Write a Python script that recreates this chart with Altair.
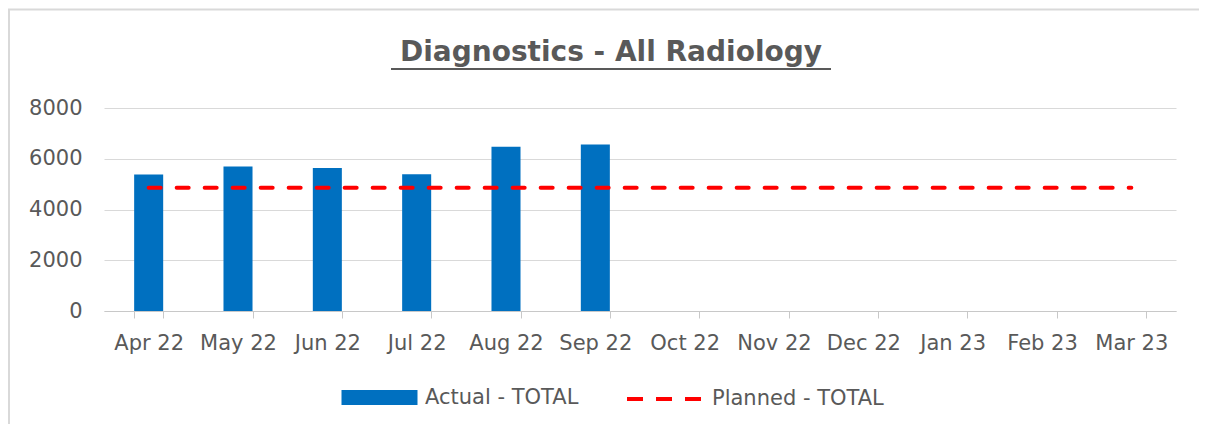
import altair as alt
import pandas as pd

months = ["Apr 22", "May 22", "Jun 22", "Jul 22", "Aug 22", "Sep 22",
          "Oct 22", "Nov 22", "Dec 22", "Jan 23", "Feb 23", "Mar 23"]
actual_months = ["Apr 22", "May 22", "Jun 22", "Jul 22", "Aug 22", "Sep 22"]
actual = [5380, 5690, 5640, 5385, 6470, 6560]
planned = [4855, 4855, 4855, 4855, 4855, 4855, 4855, 4855, 4855, 4855, 4855, 4855]
y_ticks = [0, 2000, 4000, 6000, 8000]
title_text = ["Diagnostics - All Radiology"]

FONT = "DejaVu Sans"
TFONT = "DejaVu Sans"
TXT = "#595959"
FS = 21

df_a = pd.DataFrame({"month": actual_months, "value": actual,
                     "series": ["Actual - TOTAL"] * len(actual)})
df_p = pd.DataFrame({"month": months, "value": planned,
                     "series": ["Planned - TOTAL"] * len(planned)})
df_t = pd.DataFrame({"t": title_text})

x_enc = alt.X(
    "month:N",
    sort=months,
    scale=alt.Scale(domain=months, paddingInner=0.675, paddingOuter=0.3375),
    axis=alt.Axis(
        title=None, labelAngle=0, tickBand="extent", ticks=True, tickSize=7,
        tickColor="#c8c8c8", domainColor="#c8c8c8", labelPadding=14,
        labelFontSize=FS, labelColor=TXT, labelFont=FONT, grid=False,
    ),
)
y_enc = alt.Y(
    "value:Q",
    scale=alt.Scale(domain=[0, 8000]),
    axis=alt.Axis(
        title=None, values=y_ticks, format="d", domain=False, ticks=False,
        labelPadding=22, labelFontSize=FS, labelColor=TXT, labelFont=FONT,
        gridColor="#d9d9d9", gridWidth=1,
    ),
)

bars = alt.Chart(df_a).mark_bar().encode(
    x=x_enc,
    y=y_enc,
    fill=alt.Fill(
        "series:N",
        scale=alt.Scale(domain=["Actual - TOTAL"], range=["#0070C0"]),
        legend=alt.Legend(
            title=None, orient="none", legendX=265, legendY=279, padding=0,
            symbolType="M-5,-1H5V1H-5Z", symbolSize=231, symbolStrokeWidth=0,
            symbolOpacity=1, labelOffset=35, labelFontSize=FS, labelColor=TXT,
            labelFont=FONT, labelLimit=400,
        ),
    ),
)

line = alt.Chart(df_p).mark_line(strokeWidth=4, strokeDash=[12, 16], strokeCap="round").encode(
    x=alt.X("month:N", sort=months),
    y=alt.Y("value:Q"),
    stroke=alt.Stroke(
        "series:N",
        scale=alt.Scale(domain=["Planned - TOTAL"], range=["#FF0000"]),
        legend=alt.Legend(
            title=None, orient="none", legendX=521, legendY=251, padding=0,
            symbolType="stroke", symbolSize=5776, symbolStrokeWidth=4,
            symbolDash=[16, 13], labelOffset=7, labelFontSize=FS,
            labelColor=TXT, labelFont=FONT, labelLimit=400,
        ),
    ),
)

title = alt.Chart(df_t).mark_text(
    font=TFONT, fontSize=28, fontWeight="bold", color=TXT,
    align="center", baseline="alphabetic",
).encode(text="t:N", x=alt.value(507), y=alt.value(-47))

underline = alt.Chart(df_t).mark_rule(color=TXT, strokeWidth=2).encode(
    x=alt.value(287), x2=alt.value(727), y=alt.value(-39)
)
border_top = alt.Chart(df_t).mark_rule(color="#d9d9d9", strokeWidth=2).encode(
    x=alt.value(-96), x2=alt.value(1095), y=alt.value(-98.5)
)
border_left = alt.Chart(df_t).mark_rule(color="#d9d9d9", strokeWidth=2).encode(
    x=alt.value(-95), y=alt.value(-99), y2=alt.value(316)
)

chart = alt.layer(bars, line, title, underline, border_top, border_left).properties(
    width=1072,
    height=203,
    background="white",
    autosize=alt.AutoSizeParams(type="none"),
    padding={"left": 96, "top": 100, "right": 23, "bottom": 113},
).configure_view(stroke="transparent", strokeWidth=0)

chart.save("out.html", embed_options={"renderer": "svg", "actions": False})
